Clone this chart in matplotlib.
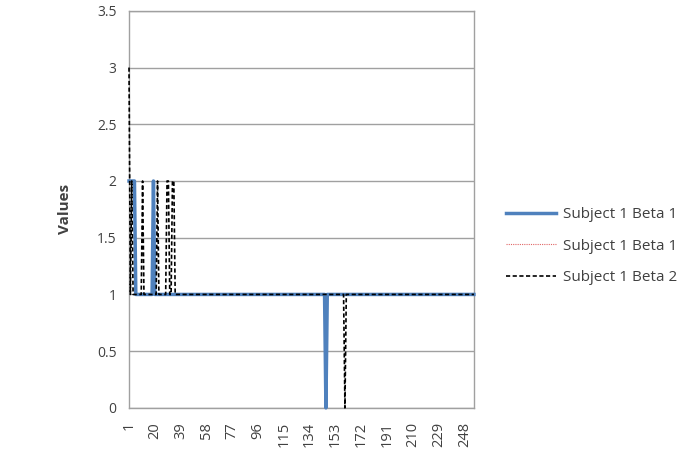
import numpy as np
import matplotlib
matplotlib.use('Agg')
from matplotlib import pyplot as plt

# Datos (índice 1..N)
n_puntos = 255
indices = list(range(1, n_puntos + 1))

# Subject 1 Beta 1 (azul): 2 al principio, pico en 19, caída a 0 en 146
beta1 = [1.0] * n_puntos
for i in [1, 2, 3, 4, 5, 19]:
    beta1[i - 1] = 2.0
beta1[146 - 1] = 0.0

# Subject 1 Beta 1 (rojo punteado) queda oculto bajo la azul
beta1_b = list(beta1)

# Subject 1 Beta 2 (negro discontinuo)
beta2 = [1.0] * n_puntos
beta2[0] = 3.0
for i in [3, 11, 22, 29, 30, 33, 34]:
    beta2[i - 1] = 2.0
beta2[160 - 1] = 0.0

etiquetas_x = list(range(1, n_puntos, 19))
etiquetas_y = [0, 0.5, 1, 1.5, 2, 2.5, 3, 3.5]

plt.rcParams['font.family'] = ['Open Sans', 'DejaVu Sans']

fig = plt.figure(figsize=(6.79, 4.71), dpi=100)
ax = fig.add_axes([0.19, 0.134, 0.508, 0.843])

l_rojo, = ax.plot(indices, beta1_b, color='#e06666', linewidth=0.8,
                  linestyle=(0, (1, 1)), label='Subject 1 Beta 1')
l_azul, = ax.plot(indices, beta1, color='#4f81bd', linewidth=2.5,
                  label='Subject 1 Beta 1', clip_on=False, zorder=3)
l_negro, = ax.plot(indices, beta2, color='black', linewidth=1.2,
                   linestyle=(0, (2.5, 1.5)), label='Subject 1 Beta 2',
                   clip_on=False, zorder=4)

ax.set_xlim(1, n_puntos)
ax.set_ylim(0, 3.5)
ax.set_yticks(etiquetas_y)
ax.set_yticklabels(['0', '0.5', '1', '1.5', '2', '2.5', '3', '3.5'], fontsize=10)
ax.set_xticks(etiquetas_x)
ax.set_xticklabels([str(e) for e in etiquetas_x], rotation=90, fontsize=10.5)
ax.tick_params(axis='y', length=0, pad=9, colors='#404040')
ax.tick_params(axis='x', length=0, pad=10, colors='#404040')
ax.grid(axis='y', color='#a0a0a0', linewidth=1.0)
ax.set_axisbelow(True)
for lado in ax.spines.values():
    lado.set_color('#a0a0a0')
    lado.set_linewidth(1.0)

ax.set_ylabel('Values', fontsize=11, fontweight='bold', color='#404040', labelpad=18)

fig.legend([l_azul, l_rojo, l_negro],
           ['Subject 1 Beta 1', 'Subject 1 Beta 1', 'Subject 1 Beta 2'],
           loc='upper left', bbox_to_anchor=(0.725, 0.59), frameon=False,
           fontsize=11, handlelength=3.3, handletextpad=0.4, labelspacing=1.1,
           labelcolor='#404040')

fig.savefig('out.png', dpi=100)
